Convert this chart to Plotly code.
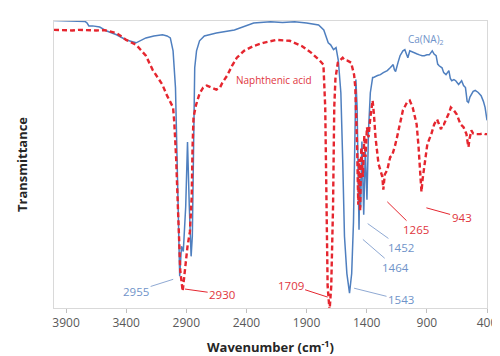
import plotly.graph_objects as go

# Ca(NA)2 spectrum (wavenumber, transmittance a.u.)
blue_wn = [4000, 3900, 3800, 3740, 3725, 3710, 3680, 3620, 3561, 3480, 3399, 3317, 3236, 3170,
           3098, 3060, 3033, 3020, 3010, 2990, 2970, 2955, 2940, 2925, 2905, 2890, 2875, 2860, 2850,
           2840, 2830, 2815, 2790, 2750, 2650, 2500, 2340, 2200, 2100, 2000, 1900, 1800, 1757, 1720,
           1700, 1676, 1655, 1636, 1615, 1600, 1585, 1565, 1543, 1525, 1510, 1500, 1490, 1480, 1472,
           1464, 1458, 1450, 1440, 1425, 1412, 1398, 1385, 1370, 1351, 1343, 1310, 1286, 1262, 1229,
           1205, 1180, 1170, 1160, 1140, 1123, 1099, 1083, 1070, 1058, 1042, 1020, 1001, 980, 961,
           940, 920, 900, 880, 855, 840, 823, 810, 798, 774, 760, 741, 730, 717, 705, 693, 675, 660,
           636, 620, 611, 595, 579, 565, 554, 542, 530, 515, 498, 485, 473, 460, 449, 430, 416, 400]
blue_t = [100.2, 100.1, 100.0, 99.8, 99.3, 98.3, 98.3, 97.9, 96.5, 95.2, 93.4, 92.4, 94.1, 94.8,
          95.2, 94.8, 94.1, 92.0, 89.6, 76.8, 35.3, 11.1, 21.5, 19.7, 35.3, 57.8, 35.3, 18.0, 24.9,
          63.0, 83.7, 89.6, 93.1, 94.8, 95.8, 96.9, 99.3, 99.7, 99.5, 99.7, 99.3, 98.6, 96.9, 92.4,
          91.7, 90.0, 90.7, 86.2, 75.0, 52.0, 25.0, 12.0, 5.2, 12.0, 30.0, 55.0, 79.6, 70.0, 50.0,
          27.3, 45.0, 35.0, 58.0, 32.5, 55.0, 37.7, 62.0, 75.0, 80.3, 80.3, 81.0, 81.3, 82.0, 82.7,
          83.7, 84.8, 83.0, 82.4, 85.5, 87.9, 89.6, 90.0, 88.5, 87.2, 89.6, 89.3, 88.9, 88.5, 88.2,
          87.9, 87.9, 88.2, 88.2, 89.6, 88.5, 87.9, 85.0, 84.4, 83.7, 82.0, 81.3, 82.2, 82.7, 80.0,
          79.2, 79.6, 79.2, 77.9, 78.8, 79.2, 77.5, 76.8, 72.0, 71.6, 73.5, 74.4, 75.5, 75.8, 75.5,
          75.1, 74.5, 74.0, 72.0, 69.9, 65.4]

# Naphthenic acid spectrum
red_wn = [4000, 3950, 3900, 3850, 3800, 3750, 3700, 3650, 3580, 3540, 3480, 3400, 3317, 3280, 3236,
          3180, 3100, 3060, 3030, 3010, 3000, 2985, 2970, 2950, 2930, 2910, 2890, 2870, 2855, 2848,
          2840, 2820, 2790, 2760, 2730, 2690, 2650, 2620, 2600, 2560, 2520, 2480, 2420, 2340, 2260,
          2150, 2040, 1940, 1860, 1790, 1760, 1745, 1735, 1725, 1709, 1695, 1680, 1670, 1660, 1640,
          1600, 1586, 1560, 1530, 1505, 1495, 1480, 1470, 1462, 1455, 1445, 1432, 1420, 1410, 1398,
          1385, 1370, 1351, 1340, 1327, 1302, 1285, 1270, 1262, 1250, 1229, 1205, 1190, 1180, 1165,
          1148, 1123, 1099, 1066, 1042, 1018, 985, 969, 955, 945, 935, 920, 896, 863, 839, 815, 795,
          782, 770, 758, 733, 715, 701, 676, 652, 635, 620, 595, 571, 560, 554, 545, 530, 515, 498,
          457, 430, 416, 400]
red_t = [96.9, 96.8, 96.9, 96.7, 96.9, 96.8, 96.9, 96.7, 96.8, 96.5, 95.8, 93.4, 91.7, 90.0, 87.9,
         83.0, 77.9, 74.0, 71.6, 69.9, 64.7, 52.6, 35.3, 12.8, 5.9, 13.8, 21.5, 26.6, 38.8, 56.1,
         66.4, 70.6, 74.7, 76.8, 77.5, 76.8, 76.1, 76.8, 78.5, 81.0, 84.4, 87.2, 89.6, 91.3, 92.4,
         93.4, 93.1, 91.3, 88.9, 86.2, 84.8, 69.9, 35.3, 7.6, -1.0, 7.6, 35.3, 69.9, 80.0, 85.5,
         87.2, 86.5, 86.2, 85.5, 81.3, 76.8, 56.1, 36.0, 52.0, 33.6, 56.0, 45.7, 60.0, 52.6, 63.0,
         59.5, 66.4, 72.3, 67.5, 59.5, 50.2, 47.5, 45.7, 41.2, 46.5, 48.1, 52.6, 53.0, 54.3, 56.5,
         59.5, 64.0, 68.9, 71.6, 72.3, 69.9, 64.0, 56.1, 47.0, 40.5, 45.0, 50.2, 57.1, 60.6, 64.0,
         65.7, 63.5, 62.3, 64.0, 64.0, 66.4, 68.0, 69.9, 68.9, 67.5, 65.5, 64.0, 63.0, 60.6, 57.5,
         56.1, 59.0, 61.9, 60.8, 60.6, 60.6, 60.8, 60.6, 60.6]

# x tick values
x_ticks = [3900, 3400, 2900, 2400, 1900, 1400, 900, 400]

BLUE = "#4f7fbf"
BLUE_TXT = "#6f93c9"
RED = "#e5262f"
RED_TXT = "#e0353d"
FONT = "Open Sans"

fig = go.Figure()
fig.add_trace(go.Scatter(x=blue_wn, y=blue_t, mode="lines", name="Ca(NA)2",
                         line=dict(color=BLUE, width=1.5)))
fig.add_trace(go.Scatter(x=red_wn, y=red_t, mode="lines", name="Naphthenic acid",
                         line=dict(color=RED, width=2.4, dash="5px,3px")))

# peak labels: (text, tip x, tip y, text x, text y, colour, line colour)
labels = [
    ("2955", 3009, 10.0, 3317, 5.9, BLUE_TXT, "#8fa9d3"),
    ("2930", 2911, 6.6, 2602, 4.8, RED_TXT, RED),
    ("1709", 1725, 3.8, 2033, 8.0, RED_TXT, RED),
    ("1543", 1505, 6.9, 1115, 2.8, BLUE_TXT, "#8fa9d3"),
    ("1464", 1432, 23.9, 1164, 14.2, BLUE_TXT, "#8fa9d3"),
    ("1452", 1392, 29.4, 1115, 21.1, BLUE_TXT, "#8fa9d3"),
    ("1265", 1229, 37.0, 993, 27.3, RED_TXT, RED),
    ("943", 904, 34.9, 611, 31.5, RED_TXT, RED),
]
for txt, tx, ty, lx, ly, col, lcol in labels:
    fig.add_annotation(x=tx, y=ty, ax=lx, ay=ly, xref="x", yref="y", axref="x", ayref="y",
                       text=txt, showarrow=True, arrowhead=0, arrowwidth=1, arrowcolor=lcol,
                       font=dict(family=FONT, size=11.5, color=col))

fig.add_annotation(x=2172, y=79.6, text="Naphthenic acid", showarrow=False,
                   font=dict(family=FONT, size=10, color=RED_TXT))
fig.add_annotation(x=904, y=93.4, text="Ca(NA)<sub>2</sub>", showarrow=False,
                   font=dict(family=FONT, size=10, color=BLUE_TXT))

fig.update_layout(
    width=500, height=356,
    margin=dict(l=46, r=11, t=13, b=54),
    paper_bgcolor="white", plot_bgcolor="white",
    showlegend=False,
    font=dict(family=FONT, color="#595959"),
)
fig.update_xaxes(range=[4000, 400], tickvals=x_ticks, ticks="outside", ticklen=4,
                 tickcolor="#bfbfbf", showgrid=False, zeroline=False,
                 showline=True, linecolor="#d9d9d9", mirror=True,
                 tickfont=dict(family=FONT, size=12, color="#595959"),
                 title=dict(text="<b>Wavenumber (cm<sup>-1</sup>)</b>", standoff=12,
                            font=dict(family=FONT, size=13, color="#262626")))
fig.update_yaxes(range=[0, 100], showticklabels=False, ticks="", showgrid=False, zeroline=False,
                 showline=True, linecolor="#d9d9d9", mirror=True,
                 title=dict(text="<b>Transmittance</b>", standoff=22,
                            font=dict(family=FONT, size=13, color="#262626")))

fig.write_html("out.html")
